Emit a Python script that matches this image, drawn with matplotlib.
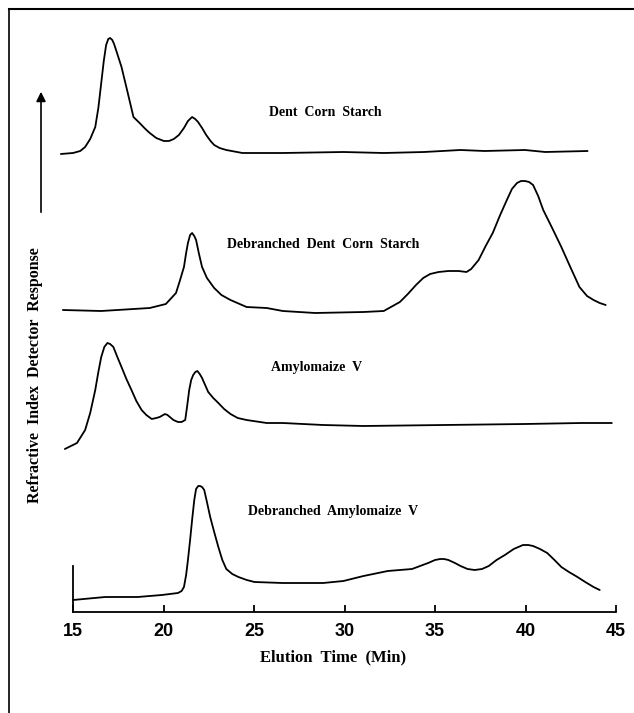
import numpy as np
import matplotlib
matplotlib.use('Agg')
import matplotlib.pyplot as plt
from matplotlib.lines import Line2D
from matplotlib.patches import FancyArrowPatch

t_dent = [14.33, 15.0, 15.4, 15.67, 15.95, 16.23, 16.4, 16.56, 16.7, 16.83, 16.95, 17.05,
          17.17, 17.27, 17.45, 17.68, 18.0, 18.34, 18.68, 19.0, 19.24, 19.6, 20.02, 20.3,
          20.57, 20.85, 21.13, 21.35, 21.58, 21.75, 21.91, 22.13, 22.36, 22.6, 22.8, 23.1,
          23.47, 24.36, 26.59, 29.94, 32.17, 34.40, 36.40, 37.74, 39.97, 41.09, 43.43]
r_dent = [-1, 0, 2, 6, 14, 26, 45, 70, 92, 108, 114, 115,
          113, 109, 99, 86, 62, 36, 30, 24, 20, 15, 12, 12,
          14, 18, 25, 32, 36, 34, 31, 25, 18, 12, 8, 5,
          3, 0, 0, 1, 0, 1, 3, 2, 3, 1, 2]

t_deb_dent = [14.44, 16.56, 19.24, 20.13, 20.69, 20.9, 21.13, 21.25, 21.35, 21.47, 21.58, 21.7,
              21.8, 21.95, 22.13, 22.4, 22.8, 23.2, 23.7, 24.59, 25.7, 26.59, 28.38, 31.05,
              32.17, 33.06, 33.5, 33.95, 34.35, 34.73, 35.2, 35.74, 36.3, 36.74, 37.0, 37.41,
              37.8, 38.19, 38.6, 38.97, 39.25, 39.53, 39.75, 39.97, 40.2, 40.42, 40.7, 40.98,
              41.5, 41.98, 42.5, 42.98, 43.4, 43.76, 44.1, 44.43]
r_deb_dent = [1, 0, 3, 7, 18, 30, 44, 58, 68, 76, 78, 75,
              71, 58, 44, 33, 23, 16, 11, 4, 3, 0, -2, -1,
              0, 9, 17, 26, 33, 37, 39, 40, 40, 39, 42, 51,
              65, 78, 96, 111, 122, 128, 130, 130, 129, 126, 115, 101,
              82, 64, 43, 24, 15, 11, 8, 6]

t_amylo = [14.55, 15.22, 15.67, 15.95, 16.23, 16.4, 16.56, 16.73, 16.9, 17.05, 17.23, 17.45,
           17.68, 17.95, 18.23, 18.5, 18.79, 19.05, 19.35, 19.6, 19.79, 20.08, 20.22, 20.35,
           20.55, 20.8, 21.0, 21.2, 21.3, 21.42, 21.53, 21.64, 21.76, 21.87, 22.0, 22.13,
           22.3, 22.47, 22.75, 23.03, 23.35, 23.7, 24.1, 24.59, 25.7, 26.59, 28.82, 31.05,
           35.51, 39.97, 43.09, 44.77]
r_amylo = [-24, -18, -5, 12, 35, 53, 68, 78, 82, 81, 78, 68,
           58, 46, 35, 24, 15, 10, 6, 7, 8, 11, 10, 8,
           5, 3, 3, 5, 18, 35, 45, 50, 53, 54, 51, 47,
           40, 33, 27, 22, 16, 11, 7, 5, 2, 2, 0, -1,
           0, 1, 2, 2]

t_deb_amylo = [15.0, 16.78, 18.57, 19.91, 20.8, 21.0, 21.13, 21.25, 21.35, 21.47, 21.58, 21.7,
               21.8, 21.92, 22.02, 22.13, 22.25, 22.4, 22.58, 22.8, 23.03, 23.25, 23.47, 23.8,
               24.14, 24.6, 25.03, 26.59, 28.82, 29.94, 31.05, 32.39, 33.73, 34.62, 35.0, 35.29,
               35.5, 35.74, 36.1, 36.41, 36.8, 37.19, 37.6, 37.97, 38.4, 38.86, 39.35, 39.86,
               40.15, 40.42, 40.8, 41.2, 41.6, 41.98, 42.4, 42.87, 43.3, 43.76, 44.1]
r_deb_amylo = [0, 3, 3, 5, 7, 9, 13, 25, 40, 60, 80, 100,
               111, 114, 114, 113, 110, 98, 83, 68, 53, 40, 31, 26,
               23, 20, 18, 17, 17, 19, 24, 29, 31, 37, 40, 41,
               41, 40, 37, 34, 31, 30, 31, 34, 40, 45, 51, 55,
               55, 54, 51, 47, 40, 33, 28, 23, 18, 13, 10]

nombres = ['Dent  Corn  Starch', 'Debranched  Dent  Corn  Starch',
           'Amylomaize  V', 'Debranched  Amylomaize  V']
ticks_x = [15, 20, 25, 30, 35, 40, 45]

# Desplazamiento vertical de cada traza
offsets = [459, 301, 187, 12]
pos_etiquetas = [(28.92, 500), (28.82, 367), (28.44, 244), (29.38, 100)]

fig = plt.figure(figsize=(6.34, 7.13), dpi=100)
ax = fig.add_axes([73 / 634, 101 / 713, 543 / 634, 592 / 713])

serif = 'Liberation Serif'
trazas = [(t_dent, r_dent), (t_deb_dent, r_deb_dent),
          (t_amylo, r_amylo), (t_deb_amylo, r_deb_amylo)]
for (t, r), off, nombre, (xt, yt) in zip(trazas, offsets, nombres, pos_etiquetas):
    ax.plot(t, np.array(r) + off, color='black', lw=1.3, clip_on=False,
            solid_joinstyle='round', solid_capstyle='round')
    ax.text(xt, yt, nombre, ha='center', va='center', fontsize=10,
            fontfamily=serif, fontweight='bold')

ax.set_xlim(15, 45)
ax.set_ylim(0, 592)
ax.set_xticks(ticks_x)
ax.set_yticks([])
for s in ['top', 'right']:
    ax.spines[s].set_visible(False)
ax.spines['left'].set_bounds(0, 46)
ax.spines['left'].set_linewidth(1.3)
ax.spines['bottom'].set_linewidth(1.3)
ax.tick_params(axis='x', direction='in', length=5, width=1.3, pad=8)
for lab in ax.get_xticklabels():
    lab.set_fontfamily('Liberation Sans')
    lab.set_fontweight('bold')
    lab.set_fontsize(13)
ax.patch.set_visible(False)

fig.text(333 / 634, 1 - 657 / 713, 'Elution  Time  (Min)', ha='center', va='center',
         fontsize=12, fontfamily=serif, fontweight='bold')
fig.text(35 / 634, 1 - 375 / 713, 'Refractive  Index  Detector  Response', rotation=90,
         ha='center', va='center', fontsize=11.5, fontfamily=serif, fontweight='bold')

# Flecha del eje de respuesta
fig.add_artist(FancyArrowPatch((41 / 634, 1 - 215 / 713), (41 / 634, 1 - 89 / 713),
                               transform=fig.transFigure, arrowstyle='-|>',
                               mutation_scale=14, lw=1.2, color='black'))

# Marco
fig.add_artist(Line2D([9 / 634, 9 / 634], [0, 1 - 9 / 713], transform=fig.transFigure,
                      color='black', lw=1.2))
fig.add_artist(Line2D([9 / 634, 1], [1 - 9 / 713, 1 - 9 / 713], transform=fig.transFigure,
                      color='black', lw=1.5))

fig.savefig('out.png', dpi=100)
